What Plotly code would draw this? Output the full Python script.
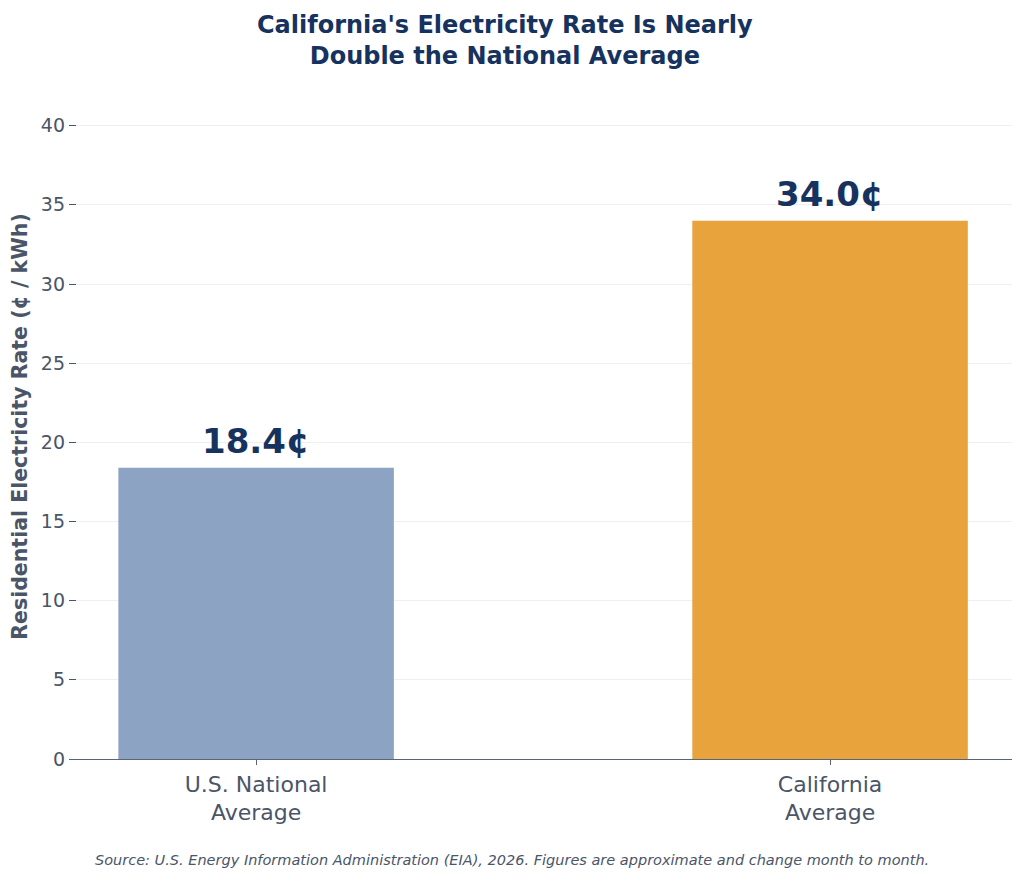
# California vs national residential electricity rate, bar chart with Plotly
import plotly.graph_objects as go

categories = ["U.S. National<br>Average", "California<br>Average"]
rates = [18.4, 34.0]
bar_colors = ["#8ca3c4", "#e8a33d"]
y_ticks = [0, 5, 10, 15, 20, 25, 30, 35, 40]

title_text = "California's Electricity Rate Is Nearly<br>Double the National Average"
y_title = "Residential Electricity Rate (¢ / kWh)"
source_text = ("Source: U.S. Energy Information Administration (EIA), 2026. "
               "Figures are approximate and change month to month.")

FONT = "DejaVu Sans"
NAVY = "#16325e"
GREY = "#4a5568"

fig = go.Figure()
fig.add_trace(go.Bar(
    x=categories,
    y=rates,
    marker=dict(color=bar_colors, line=dict(width=0)),
    width=0.48,
    hoverinfo="skip",
))

# value labels above bars
for cat, val in zip(categories, rates):
    fig.add_annotation(
        x=cat, y=val, text=f"<b>{val:.1f}¢</b>",
        showarrow=False, yanchor="bottom", yshift=5,
        font=dict(family=FONT, size=34, color=NAVY),
    )

fig.add_annotation(
    x=0.47, y=-0.152, xref="paper", yref="paper",
    text=f"<i>{source_text}</i>", showarrow=False,
    xanchor="center", yanchor="middle",
    font=dict(family=FONT, size=14.5, color=GREY),
)

# page body has an 8px margin, so the figure is a bit smaller than the window
fig.update_layout(
    width=1016, height=873,
    margin=dict(l=61, r=12, t=86, b=122),
    paper_bgcolor="white", plot_bgcolor="white",
    showlegend=False,
    font=dict(family=FONT, color=GREY),
    title=dict(
        text=f"<b>{title_text}</b>",
        x=0.489, xanchor="center", xref="container",
        y=0.9717, yanchor="top", yref="container",
        font=dict(family=FONT, size=24, color=NAVY),
    ),
)

fig.update_xaxes(
    range=[-0.326, 1.317],
    showline=True, linecolor="#5a6478", linewidth=1.3,
    ticks="outside", ticklen=5, tickcolor="#5a6478",
    tickfont=dict(family=FONT, size=22, color=GREY),
    showgrid=False, zeroline=False,
)

fig.update_yaxes(
    range=[0, 42],
    tickvals=y_ticks,
    showline=False,
    automargin=False,
    ticks="inside", ticklen=7, tickcolor=GREY,
    ticklabelstandoff=3,
    tickfont=dict(family=FONT, size=19, color=GREY),
    showgrid=True, gridcolor="#eceff4", gridwidth=1,
    zeroline=False,
    title=dict(text=f"<b>{y_title}</b>", standoff=10,
               font=dict(family=FONT, size=20.5, color=GREY)),
)

fig.write_html("out.html")
